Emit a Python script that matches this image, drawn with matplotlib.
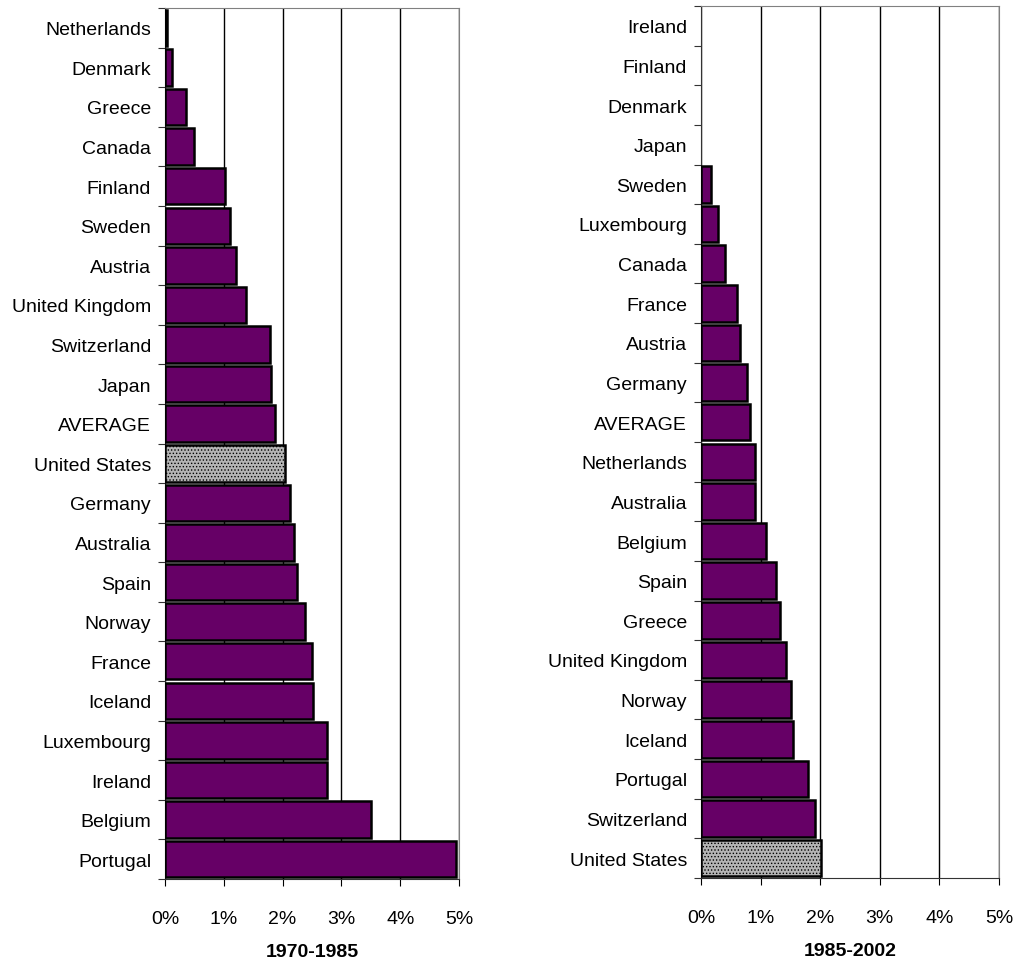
import numpy as np
import matplotlib
matplotlib.use("Agg")
import matplotlib.pyplot as plt
from matplotlib.ticker import FixedLocator, PercentFormatter

plt.rcParams['font.family'] = ['Liberation Sans', 'DejaVu Sans']
plt.rcParams['hatch.color'] = '#666666'
plt.rcParams['hatch.linewidth'] = 0.6

# 1970-1985 panel
countries_1 = ['Netherlands', 'Denmark', 'Greece', 'Canada', 'Finland', 'Sweden',
               'Austria', 'United Kingdom', 'Switzerland', 'Japan', 'AVERAGE',
               'United States', 'Germany', 'Australia', 'Spain', 'Norway', 'France',
               'Iceland', 'Luxembourg', 'Ireland', 'Belgium', 'Portugal']
values_1 = [0.03, 0.12, 0.36, 0.50, 1.02, 1.10, 1.20, 1.38, 1.78, 1.80, 1.87,
            2.04, 2.13, 2.19, 2.24, 2.38, 2.50, 2.52, 2.75, 2.75, 3.50, 4.95]

# 1985-2002 panel
countries_2 = ['Ireland', 'Finland', 'Denmark', 'Japan', 'Sweden', 'Luxembourg',
               'Canada', 'France', 'Austria', 'Germany', 'AVERAGE', 'Netherlands',
               'Australia', 'Belgium', 'Spain', 'Greece', 'United Kingdom', 'Norway',
               'Iceland', 'Portugal', 'Switzerland', 'United States']
values_2 = [0.0, 0.0, 0.0, 0.0, 0.17, 0.29, 0.40, 0.60, 0.65, 0.77, 0.82, 0.90,
            0.90, 1.09, 1.26, 1.33, 1.43, 1.51, 1.54, 1.79, 1.91, 2.02]

titles = ['1970-1985', '1985-2002']
xticks = [0, 1, 2, 3, 4, 5]

purple = '#660066'
fs = 14

fig = plt.figure(figsize=(10.2, 9.62), dpi=100)
ax1 = fig.add_axes([165/1020, 82/962, 294/1020, 871/962])
ax2 = fig.add_axes([701/1020, 83/962, 298/1020, 872/962])

for ax, names, vals, title in [(ax1, countries_1, values_1, titles[0]),
                               (ax2, countries_2, values_2, titles[1])]:
    pos = np.arange(len(names))
    colors = ['#b4b4b4' if n == 'United States' else purple for n in names]
    bars = ax.barh(pos, vals, height=0.92, color=colors, edgecolor='black',
                   linewidth=1.8, zorder=3)
    for b, n, v in zip(bars, names, vals):
        if n == 'United States':
            b.set_hatch('.....')
        if v == 0:
            b.set_linewidth(0)   # no outline for empty bars
    ax.set_xlim(0, 5)
    ax.set_ylim(len(names) - 0.5, -0.5)
    ax.set_xticks(xticks)
    ax.xaxis.set_major_formatter(PercentFormatter(decimals=0))
    ax.xaxis.grid(True, color='black', linewidth=1, zorder=0)
    # boundaries as major ticks, labels at centres
    ax.yaxis.set_major_locator(FixedLocator(np.arange(len(names) + 1) - 0.5))
    ax.yaxis.set_major_formatter(plt.NullFormatter())
    ax.yaxis.set_minor_locator(FixedLocator(pos))
    ax.set_yticklabels(names, minor=True)
    ax.tick_params(axis='y', which='major', length=5, direction='out', color='#333333')
    ax.tick_params(axis='y', which='minor', length=0, pad=10, labelsize=fs)
    ax.tick_params(axis='x', length=5, direction='out', labelsize=fs, pad=17)
    for s in ['top', 'right']:
        ax.spines[s].set_color('#808080')
    ax.spines['left'].set_color('#333333')
    ax.spines['bottom'].set_color('#333333')
    ax.set_xlabel(title, fontsize=fs, fontweight='bold', labelpad=12)

fig.savefig('out.png', dpi=100)
